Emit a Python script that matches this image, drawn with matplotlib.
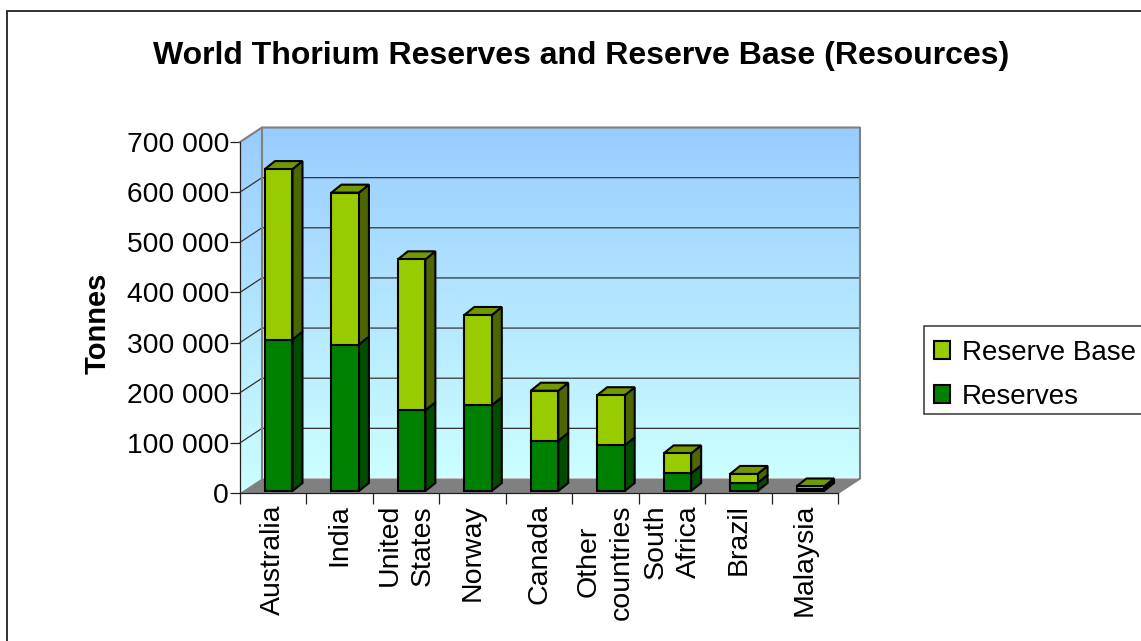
import numpy as np
import matplotlib
matplotlib.use("Agg")
import matplotlib.pyplot as plt
from matplotlib.patches import Patch, Rectangle

plt.rcParams['font.family'] = ['Liberation Sans', 'DejaVu Sans']

# Data (tonnes)
categories = ["Australia", "India", "United\nStates", "Norway", "Canada",
              "Other\ncountries", "South\nAfrica", "Brazil", "Malaysia"]
reserves = [302000, 292000, 161000, 171000, 100000, 91000, 35000, 16000, 4500]
reserve_base = [340000, 303000, 301000, 180000, 100000, 100000, 40000, 18000, 4500]
y_ticks = [0, 100000, 200000, 300000, 400000, 500000, 600000, 700000]
y_labels = ["0", "100 000", "200 000", "300 000", "400 000", "500 000", "600 000", "700 000"]

# Pixel layout of the front plane
W, H = 1141, 641
LEFT, RIGHT, TOP, BOTTOM = 240, 838, 142, 493
PX_X = (RIGHT - LEFT) / len(categories)
PX_Y = (BOTTOM - TOP) / 700000

# 3D offsets, converted to data units
DEPTH_X = 22 / PX_X
DEPTH_Y = 14.5 / PX_Y
BAR_DX = 10 / PX_X
BAR_DY = 8 / PX_Y
BAR_W = 27.5 / PX_X
BAR_SHIFT = 5.5 / PX_X
BAR_LIFT = 2 / PX_Y
LW = 1.5

YMAX = y_ticks[-1]
n = len(categories)

fig = plt.figure(figsize=(W / 100, H / 100), dpi=100)
ax = fig.add_axes([LEFT / W, 1 - BOTTOM / H, (RIGHT - LEFT) / W, (BOTTOM - TOP) / H])
ax.set_xlim(0, n)
ax.set_ylim(0, YMAX)
ax.patch.set_visible(False)

# Outer chart frame
fig.add_artist(Rectangle((7 / W, -0.1), 1.1, 1 - 11 / H + 0.1, transform=fig.transFigure,
                         fill=False, ec="#222222", lw=1.3))

# Walls with the blue gradient
grad = np.linspace(0, 1, 256).reshape(-1, 1, 1) * (np.array([0xCC, 0xFF, 0xFF]) - np.array([0x99, 0xCC, 0xFF])) \
    + np.array([0x99, 0xCC, 0xFF])
grad = grad / 255
ax.imshow(grad, extent=(DEPTH_X, n + DEPTH_X, DEPTH_Y, YMAX + DEPTH_Y), aspect="auto",
          zorder=1, clip_on=False)
side = ax.imshow(grad, extent=(0, DEPTH_X, 0, YMAX + DEPTH_Y), aspect="auto", zorder=1)
side_poly = ax.fill([0, DEPTH_X, DEPTH_X, 0], [0, DEPTH_Y, YMAX + DEPTH_Y, YMAX],
                    fc="none", ec="none", clip_on=False)[0]
side.set_clip_box(fig.bbox)
side.set_clip_path(side_poly)
ax.set_xlim(0, n)
ax.set_ylim(0, YMAX)

# Floor
ax.fill([0, DEPTH_X, n + DEPTH_X, n], [0, DEPTH_Y, DEPTH_Y, 0], fc="#808080", ec="none",
        zorder=1.5, clip_on=False)

# Grid lines along the side wall and the back wall
for v in y_ticks[1:-1]:
    ax.plot([0, DEPTH_X, n + DEPTH_X], [v, v + DEPTH_Y, v + DEPTH_Y], color="#333333", lw=0.9,
            zorder=2, clip_on=False)

# Wall borders
ax.plot([0, DEPTH_X, n + DEPTH_X, n + DEPTH_X, n], [YMAX, YMAX + DEPTH_Y, YMAX + DEPTH_Y, DEPTH_Y, 0],
        color="#808080", lw=1.5, zorder=2, clip_on=False)
ax.plot([DEPTH_X, DEPTH_X], [DEPTH_Y, YMAX + DEPTH_Y], color="#808080", lw=1.5, zorder=2, clip_on=False)


def draw_side(x, y0, y1, color):
    xr = x + BAR_W / 2
    ax.fill([xr, xr + BAR_DX, xr + BAR_DX, xr], [y0, y0 + BAR_DY, y1 + BAR_DY, y1],
            fc=color, ec="black", lw=LW, zorder=3, clip_on=False)


def draw_top(x, y, color):
    xl, xr = x - BAR_W / 2, x + BAR_W / 2
    ax.fill([xl, xr, xr + BAR_DX, xl + BAR_DX], [y, y, y + BAR_DY, y + BAR_DY],
            fc=color, ec="black", lw=LW, zorder=3, clip_on=False)


# Stacked bars
xs = np.arange(n) + 0.5 + BAR_SHIFT
bottoms = np.full(n, BAR_LIFT)
tops1 = bottoms + np.array(reserves)
tops2 = tops1 + np.array(reserve_base)
for i in range(n):
    draw_side(xs[i], bottoms[i], tops1[i], "#004D00")
    draw_side(xs[i], tops1[i], tops2[i], "#4D6600")
    draw_top(xs[i], tops2[i], "#739900")
ax.bar(xs, reserves, BAR_W, bottom=bottoms, color="#008000", edgecolor="black", linewidth=LW,
       zorder=4, clip_on=False)
ax.bar(xs, reserve_base, BAR_W, bottom=tops1, color="#99CC00", edgecolor="black", linewidth=LW,
       zorder=4, clip_on=False)

# Axes
for s in ["top", "right"]:
    ax.spines[s].set_visible(False)
for s in ["left", "bottom"]:
    ax.spines[s].set_linewidth(0.9)
    ax.spines[s].set_color("#222222")
    ax.spines[s].set_zorder(2.5)
ax.set_yticks(y_ticks, y_labels)
ax.set_xticks(np.arange(n + 1), [])
ax.set_xticks(np.arange(n) + 0.5, categories, minor=True, rotation=90, fontsize=20.5,
              linespacing=1.36, multialignment="center", va="top", ha="center")
ax.tick_params(axis="y", labelsize=20.3, length=7, width=0.9, pad=1, color="#222222")
ax.tick_params(axis="x", which="major", length=8, width=0.9, color="#222222")
ax.tick_params(axis="x", which="minor", length=0, pad=8)
ax.set_ylabel("Tonnes", fontsize=21, fontweight="bold")
ax.yaxis.set_label_coords((112 - LEFT) / (RIGHT - LEFT), (BOTTOM - 323) / (BOTTOM - TOP))

fig.text(581 / W, 1 - 56 / H, "World Thorium Reserves and Reserve Base (Resources)", fontsize=23,
         fontweight="bold", ha="center", va="center")

# Legend
fig.add_artist(Rectangle((924 / W, 1 - 414 / H), 0.2, 88 / H, transform=fig.transFigure,
                         fc="white", ec="#333333", lw=1.1))
handles = [Patch(fc="#99CC00", ec="black", lw=LW, label="Reserve Base"),
           Patch(fc="#008000", ec="black", lw=LW, label="Reserves")]
fig.legend(handles=handles, loc="upper left", bbox_to_anchor=(924 / W, 1 - 330 / H), fontsize=20,
           frameon=False, borderaxespad=0,
           handlelength=0.6, handleheight=0.6, handletextpad=0.4, labelspacing=0.65,
           borderpad=0.35)

fig.savefig("out.png", dpi=100)
plt.close()
